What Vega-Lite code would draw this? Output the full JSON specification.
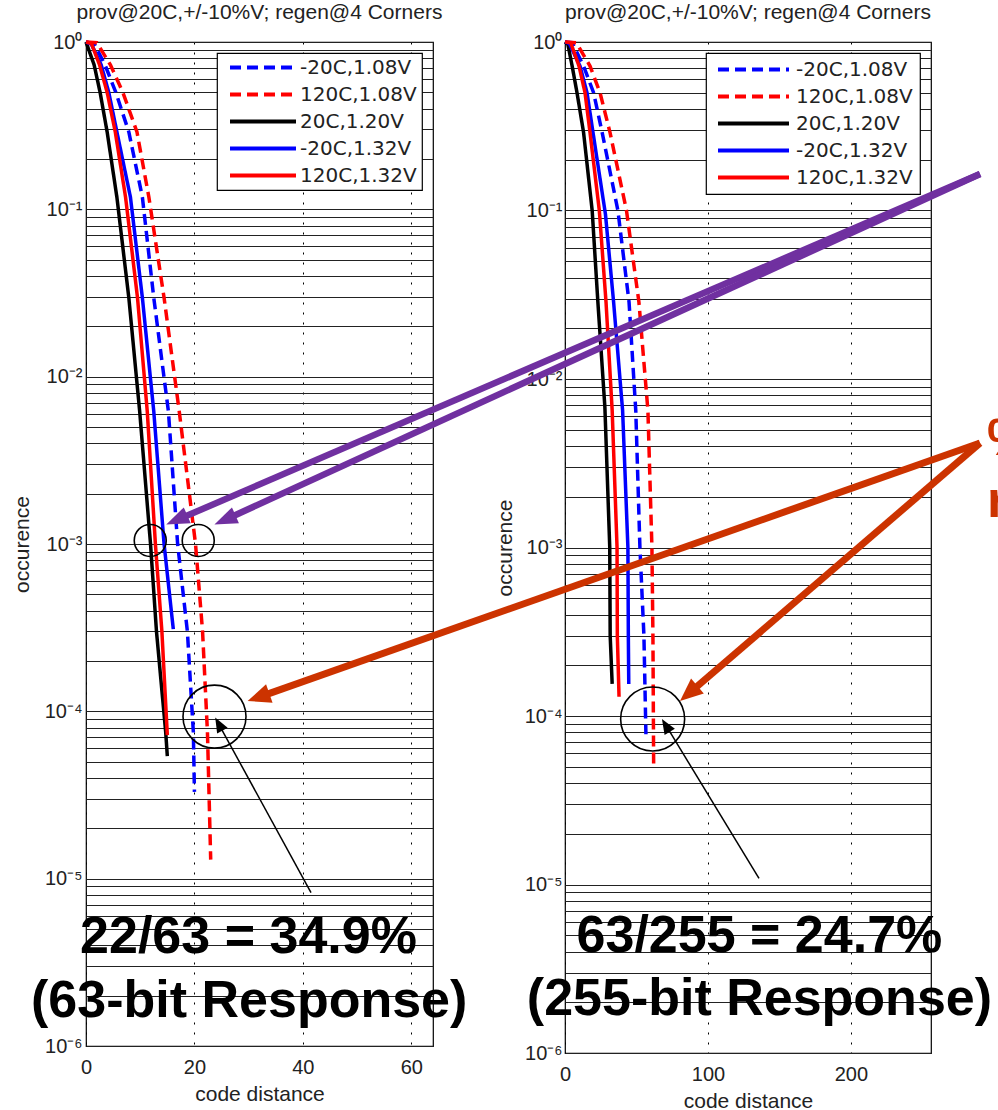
{
  "$schema": "https://vega.github.io/schema/vega-lite/v6.json",
  "background": "white",
  "padding": {"left": 10, "top": 1, "right": 0, "bottom": 4},
  "spacing": 132,
  "bounds": "flush",
  "resolve": {"scale": {"color": "independent", "strokeDash": "independent", "x": "independent", "y": "independent"}, "legend": {"color": "independent", "strokeDash": "independent"}},
  "config": {
    "font": "Liberation Sans",
    "title": {"font": "Liberation Sans", "fontSize": 21, "fontWeight": "normal", "color": "#222", "offset": 9},
    "axis": {
      "labelFont": "Liberation Sans", "titleFont": "Liberation Sans",
      "labelFontSize": 20, "titleFontSize": 21, "titleFontWeight": "normal",
      "labelColor": "#222", "titleColor": "#222",
      "ticks": false, "tickSize": 0, "domain": false,
      "labelFlush": false, "labelOverlap": false,
      "grid": true, "gridColor": "#222", "gridWidth": 1, "gridOpacity": 1
    },
    "legend": {
      "labelFont": "DejaVu Sans", "labelFontSize": 20, "labelColor": "#222",
      "fillColor": "white", "strokeColor": "#000", "strokeWidth": 1.2, "cornerRadius": 0,
      "symbolStrokeWidth": 4, "symbolSize": 225, "rowPadding": 7
    }
  },
  "datasets": {
    "left": [
      {"s": "-20C,1.08V", "d": 0, "occ": 1}, {"s": "-20C,1.08V", "d": 1.5, "occ": 0.98}, {"s": "-20C,1.08V", "d": 3.5, "occ": 0.73}, {"s": "-20C,1.08V", "d": 5.5, "occ": 0.5}, {"s": "-20C,1.08V", "d": 7.9, "occ": 0.29}, {"s": "-20C,1.08V", "d": 10.4, "occ": 0.118}, {"s": "-20C,1.08V", "d": 12.5, "occ": 0.0296}, {"s": "-20C,1.08V", "d": 15.2, "occ": 0.0062}, {"s": "-20C,1.08V", "d": 16.9, "occ": 0.001}, {"s": "-20C,1.08V", "d": 18.7, "occ": 0.0003}, {"s": "-20C,1.08V", "d": 19.8, "occ": 0.000075}, {"s": "-20C,1.08V", "d": 20, "occ": 0.000033},
      {"s": "120C,1.08V", "d": 0, "occ": 1}, {"s": "120C,1.08V", "d": 2, "occ": 0.99}, {"s": "120C,1.08V", "d": 4.5, "occ": 0.73}, {"s": "120C,1.08V", "d": 6.8, "occ": 0.5}, {"s": "120C,1.08V", "d": 9.4, "occ": 0.29}, {"s": "120C,1.08V", "d": 11.6, "occ": 0.118}, {"s": "120C,1.08V", "d": 14.4, "occ": 0.0296}, {"s": "120C,1.08V", "d": 17.2, "occ": 0.0062}, {"s": "120C,1.08V", "d": 20.2, "occ": 0.001}, {"s": "120C,1.08V", "d": 21.5, "occ": 0.0003}, {"s": "120C,1.08V", "d": 22.4, "occ": 0.000075}, {"s": "120C,1.08V", "d": 23, "occ": 0.000013},
      {"s": "20C,1.20V", "d": 0, "occ": 1}, {"s": "20C,1.20V", "d": 1.5, "occ": 0.73}, {"s": "20C,1.20V", "d": 2.6, "occ": 0.5}, {"s": "20C,1.20V", "d": 3.9, "occ": 0.29}, {"s": "20C,1.20V", "d": 5.7, "occ": 0.118}, {"s": "20C,1.20V", "d": 7.9, "occ": 0.0296}, {"s": "20C,1.20V", "d": 9.9, "occ": 0.0062}, {"s": "20C,1.20V", "d": 11.9, "occ": 0.001}, {"s": "20C,1.20V", "d": 13, "occ": 0.0003}, {"s": "20C,1.20V", "d": 14.7, "occ": 0.000075}, {"s": "20C,1.20V", "d": 15, "occ": 0.000054},
      {"s": "-20C,1.32V", "d": 0, "occ": 1}, {"s": "-20C,1.32V", "d": 1, "occ": 0.97}, {"s": "-20C,1.32V", "d": 2.8, "occ": 0.73}, {"s": "-20C,1.32V", "d": 4.2, "occ": 0.5}, {"s": "-20C,1.32V", "d": 5.7, "occ": 0.29}, {"s": "-20C,1.32V", "d": 8.2, "occ": 0.118}, {"s": "-20C,1.32V", "d": 10.4, "occ": 0.0296}, {"s": "-20C,1.32V", "d": 12.5, "occ": 0.0062}, {"s": "-20C,1.32V", "d": 14.4, "occ": 0.001}, {"s": "-20C,1.32V", "d": 16.1, "occ": 0.00031},
      {"s": "120C,1.32V", "d": 0, "occ": 1}, {"s": "120C,1.32V", "d": 1, "occ": 0.98}, {"s": "120C,1.32V", "d": 2.5, "occ": 0.73}, {"s": "120C,1.32V", "d": 3.9, "occ": 0.5}, {"s": "120C,1.32V", "d": 5.4, "occ": 0.29}, {"s": "120C,1.32V", "d": 7.3, "occ": 0.118}, {"s": "120C,1.32V", "d": 9.5, "occ": 0.0296}, {"s": "120C,1.32V", "d": 11.3, "occ": 0.0062}, {"s": "120C,1.32V", "d": 12.8, "occ": 0.001}, {"s": "120C,1.32V", "d": 14, "occ": 0.0003}, {"s": "120C,1.32V", "d": 15, "occ": 0.000072}
    ],
    "right": [
      {"s": "-20C,1.08V", "d": 0, "occ": 1}, {"s": "-20C,1.08V", "d": 5, "occ": 0.99}, {"s": "-20C,1.08V", "d": 13, "occ": 0.72}, {"s": "-20C,1.08V", "d": 20, "occ": 0.5}, {"s": "-20C,1.08V", "d": 26, "occ": 0.29}, {"s": "-20C,1.08V", "d": 37, "occ": 0.1}, {"s": "-20C,1.08V", "d": 44.8, "occ": 0.0286}, {"s": "-20C,1.08V", "d": 49.5, "occ": 0.0065}, {"s": "-20C,1.08V", "d": 52.4, "occ": 0.001}, {"s": "-20C,1.08V", "d": 55.2, "occ": 0.0003}, {"s": "-20C,1.08V", "d": 56.6, "occ": 0.000078},
      {"s": "120C,1.08V", "d": 0, "occ": 1}, {"s": "120C,1.08V", "d": 8, "occ": 0.99}, {"s": "120C,1.08V", "d": 17.5, "occ": 0.72}, {"s": "120C,1.08V", "d": 24.5, "occ": 0.5}, {"s": "120C,1.08V", "d": 31.5, "occ": 0.29}, {"s": "120C,1.08V", "d": 43, "occ": 0.1}, {"s": "120C,1.08V", "d": 51.7, "occ": 0.0286}, {"s": "120C,1.08V", "d": 58, "occ": 0.0065}, {"s": "120C,1.08V", "d": 60.8, "occ": 0.001}, {"s": "120C,1.08V", "d": 61.5, "occ": 0.0003}, {"s": "120C,1.08V", "d": 62, "occ": 0.000052},
      {"s": "20C,1.20V", "d": 0, "occ": 1}, {"s": "20C,1.20V", "d": 2, "occ": 0.97}, {"s": "20C,1.20V", "d": 5, "occ": 0.72}, {"s": "20C,1.20V", "d": 8.4, "occ": 0.5}, {"s": "20C,1.20V", "d": 13, "occ": 0.29}, {"s": "20C,1.20V", "d": 19, "occ": 0.1}, {"s": "20C,1.20V", "d": 23, "occ": 0.0286}, {"s": "20C,1.20V", "d": 27.9, "occ": 0.0068}, {"s": "20C,1.20V", "d": 31.3, "occ": 0.001}, {"s": "20C,1.20V", "d": 31.6, "occ": 0.0003}, {"s": "20C,1.20V", "d": 33, "occ": 0.000155},
      {"s": "-20C,1.32V", "d": 0, "occ": 1}, {"s": "-20C,1.32V", "d": 3, "occ": 0.98}, {"s": "-20C,1.32V", "d": 10.5, "occ": 0.72}, {"s": "-20C,1.32V", "d": 15.4, "occ": 0.5}, {"s": "-20C,1.32V", "d": 19.6, "occ": 0.29}, {"s": "-20C,1.32V", "d": 28.3, "occ": 0.095}, {"s": "-20C,1.32V", "d": 34, "occ": 0.0286}, {"s": "-20C,1.32V", "d": 40.3, "occ": 0.0065}, {"s": "-20C,1.32V", "d": 44, "occ": 0.001}, {"s": "-20C,1.32V", "d": 44.3, "occ": 0.0003}, {"s": "-20C,1.32V", "d": 44.6, "occ": 0.000155},
      {"s": "120C,1.32V", "d": 0, "occ": 1}, {"s": "120C,1.32V", "d": 4, "occ": 0.99}, {"s": "120C,1.32V", "d": 9.8, "occ": 0.72}, {"s": "120C,1.32V", "d": 14, "occ": 0.5}, {"s": "120C,1.32V", "d": 17.5, "occ": 0.29}, {"s": "120C,1.32V", "d": 24, "occ": 0.1}, {"s": "120C,1.32V", "d": 28.7, "occ": 0.0286}, {"s": "120C,1.32V", "d": 33, "occ": 0.0065}, {"s": "120C,1.32V", "d": 36.4, "occ": 0.001}, {"s": "120C,1.32V", "d": 36.6, "occ": 0.0003}, {"s": "120C,1.32V", "d": 37.8, "occ": 0.00013}
    ]
  },
  "hconcat": [
    {
      "width": 347,
      "height": 1004,
      "title": {"text": "prov@20C,+/-10%V; regen@4 Corners"},
      "view": {"stroke": "#000", "strokeWidth": 1.2},
      "layer": [
        {
          "data": {"name": "left"},
          "mark": {"type": "line", "strokeWidth": 3.5},
          "encoding": {
            "x": {"field": "d", "type": "quantitative", "title": "code distance", "scale": {"domain": [0, 64], "nice": false, "zero": false},
              "axis": {"values": [0, 20, 40, 60], "tickCount": 4, "gridDash": [2, 8], "gridColor": "#000", "labelPadding": 11, "titlePadding": 6}},
            "y": {"field": "occ", "type": "quantitative", "title": "occurence", "scale": {"type": "log", "domain": [0.000001, 1], "nice": false},
              "axis": {"values": [0.000001, 0.000002, 0.000003, 0.000004, 0.000005, 0.000006, 0.000007, 0.000008, 0.000009, 0.00001, 0.00002, 0.00003, 0.00004, 0.00005, 0.00006, 0.00007, 0.00008, 0.00009, 0.0001, 0.0002, 0.0003, 0.0004, 0.0005, 0.0006, 0.0007, 0.0008, 0.0009, 0.001, 0.002, 0.003, 0.004, 0.005, 0.006, 0.007, 0.008, 0.009, 0.01, 0.02, 0.03, 0.04, 0.05, 0.06, 0.07, 0.08, 0.09, 0.1, 0.2, 0.3, 0.4, 0.5, 0.6, 0.7, 0.8, 0.9, 1],
                "labelExpr": "abs(log(datum.value)/LN10 - round(log(datum.value)/LN10)) < 0.01 ? ['10⁻⁶','10⁻⁵','10⁻⁴','10⁻³','10⁻²','10⁻¹','10⁰'][round(log(datum.value)/LN10) + 6] : ''",
                "labelPadding": 4, "titlePadding": 12}},
            "color": {"field": "s", "type": "nominal",
              "scale": {"domain": ["-20C,1.08V", "120C,1.08V", "20C,1.20V", "-20C,1.32V", "120C,1.32V"], "range": ["#0000ff", "#ff0000", "#000000", "#0000ff", "#ff0000"]},
              "legend": {"title": null, "orient": "top-right", "offset": 11, "padding": 4.5, "symbolType": "M-4.4,0H4.4", "symbolOffset": 31.5, "labelOffset": 27}},
            "strokeDash": {"field": "s", "type": "nominal",
              "scale": {"domain": ["-20C,1.08V", "120C,1.08V", "20C,1.20V", "-20C,1.32V", "120C,1.32V"], "range": [[11, 6], [11, 6], [1, 0], [1, 0], [1, 0]]},
              "legend": {"title": null, "orient": "top-right", "offset": 11, "padding": 4.5, "symbolType": "M-4.4,0H4.4", "symbolOffset": 31.5, "labelOffset": 27}}
          }
        },
        {
          "data": {"values": [{"x": 11.85, "y": 0.00105}, {"x": 20.7, "y": 0.00105}]},
          "mark": {"type": "point", "shape": "circle", "size": 1024, "filled": false, "color": "#000", "strokeWidth": 1.6, "opacity": 1, "clip": false},
          "encoding": {"x": {"field": "x", "type": "quantitative"}, "y": {"field": "y", "type": "quantitative"}}
        },
        {
          "data": {"values": [{"x": 23.7, "y": 0.000093}]},
          "mark": {"type": "point", "shape": "circle", "size": 3969, "filled": false, "color": "#000", "strokeWidth": 1.6, "opacity": 1, "clip": false},
          "encoding": {"x": {"field": "x", "type": "quantitative"}, "y": {"field": "y", "type": "quantitative"}}
        },
        {
          "data": {"values": [{"x": 41.5, "y": 0.00000824, "x2": 24.71, "y2": 0.0000814}]},
          "mark": {"type": "rule", "color": "#000", "strokeWidth": 1.5, "clip": false},
          "encoding": {"x": {"field": "x", "type": "quantitative"}, "y": {"field": "y", "type": "quantitative"}, "x2": {"field": "x2"}, "y2": {"field": "y2"}}
        },
        {
          "data": {"values": [{"x": 23.83, "y": 0.0000919}]},
          "mark": {"type": "point", "shape": "M0,0L-0.8,2L0.8,2Z", "size": 225, "angle": 331.3, "filled": true, "color": "#000", "opacity": 1, "clip": false},
          "encoding": {"x": {"field": "x", "type": "quantitative"}, "y": {"field": "y", "type": "quantitative"}}
        },
        {
          "data": {"values": [{"x": 29.97, "y": 0.000003597, "t": "22/63 = 34.9%"}, {"x": 30.1, "y": 0.00000149, "t": "(63-bit Response)"}]},
          "mark": {"type": "text", "font": "Liberation Sans", "fontSize": 52, "fontWeight": "bold", "color": "#000", "align": "center", "baseline": "alphabetic", "clip": false},
          "encoding": {"x": {"field": "x", "type": "quantitative"}, "y": {"field": "y", "type": "quantitative"}, "text": {"field": "t"}}
        }
      ]
    },
    {
      "spacing": 56,
      "bounds": "flush",
      "resolve": {"scale": {"color": "independent", "strokeDash": "independent", "x": "independent", "y": "independent"}, "legend": {"color": "independent", "strokeDash": "independent"}},
      "hconcat": [
        {
          "width": 366,
          "height": 1011,
          "title": {"text": "prov@20C,+/-10%V; regen@4 Corners"},
          "view": {"stroke": "#000", "strokeWidth": 1.2},
          "layer": [
            {
              "data": {"name": "right"},
              "mark": {"type": "line", "strokeWidth": 3.5},
              "encoding": {
                "x": {"field": "d", "type": "quantitative", "title": "code distance", "scale": {"domain": [0, 256], "nice": false, "zero": false},
                  "axis": {"values": [0, 100, 200], "tickCount": 3, "gridDash": [2, 8], "gridColor": "#000", "labelPadding": 11, "titlePadding": 6}},
                "y": {"field": "occ", "type": "quantitative", "title": "occurence", "scale": {"type": "log", "domain": [0.000001, 1], "nice": false},
                  "axis": {"values": [0.000001, 0.000002, 0.000003, 0.000004, 0.000005, 0.000006, 0.000007, 0.000008, 0.000009, 0.00001, 0.00002, 0.00003, 0.00004, 0.00005, 0.00006, 0.00007, 0.00008, 0.00009, 0.0001, 0.0002, 0.0003, 0.0004, 0.0005, 0.0006, 0.0007, 0.0008, 0.0009, 0.001, 0.002, 0.003, 0.004, 0.005, 0.006, 0.007, 0.008, 0.009, 0.01, 0.02, 0.03, 0.04, 0.05, 0.06, 0.07, 0.08, 0.09, 0.1, 0.2, 0.3, 0.4, 0.5, 0.6, 0.7, 0.8, 0.9, 1],
                    "labelExpr": "abs(log(datum.value)/LN10 - round(log(datum.value)/LN10)) < 0.01 ? ['10⁻⁶','10⁻⁵','10⁻⁴','10⁻³','10⁻²','10⁻¹','10⁰'][round(log(datum.value)/LN10) + 6] : ''",
                    "labelPadding": 3, "titlePadding": 9}},
                "color": {"field": "s", "type": "nominal",
                  "scale": {"domain": ["-20C,1.08V", "120C,1.08V", "20C,1.20V", "-20C,1.32V", "120C,1.32V"], "range": ["#0000ff", "#ff0000", "#000000", "#0000ff", "#ff0000"]},
                  "legend": {"title": null, "orient": "top-right", "offset": 11, "padding": 6.5, "symbolType": "M-4.733,0H4.733", "symbolOffset": 31, "labelOffset": 32.5}},
                "strokeDash": {"field": "s", "type": "nominal",
                  "scale": {"domain": ["-20C,1.08V", "120C,1.08V", "20C,1.20V", "-20C,1.32V", "120C,1.32V"], "range": [[11, 6], [11, 6], [1, 0], [1, 0], [1, 0]]},
                  "legend": {"title": null, "orient": "top-right", "offset": 11, "padding": 6.5, "symbolType": "M-4.733,0H4.733", "symbolOffset": 31, "labelOffset": 32.5}}
              }
            },
            {
              "data": {"values": [{"x": 61.3, "y": 0.000096}]},
              "mark": {"type": "point", "shape": "circle", "size": 4096, "filled": false, "color": "#000", "strokeWidth": 1.6, "opacity": 1, "clip": false},
              "encoding": {"x": {"field": "x", "type": "quantitative"}, "y": {"field": "y", "type": "quantitative"}}
            },
            {
              "data": {"values": [{"x": 135.7, "y": 0.00001087, "x2": 71.48, "y2": 0.0000855}]},
              "mark": {"type": "rule", "color": "#000", "strokeWidth": 1.5, "clip": false},
              "encoding": {"x": {"field": "x", "type": "quantitative"}, "y": {"field": "y", "type": "quantitative"}, "x2": {"field": "x2"}, "y2": {"field": "y2"}}
            },
            {
              "data": {"values": [{"x": 67.8, "y": 0.0000959}]},
              "mark": {"type": "point", "shape": "M0,0L-0.8,2L0.8,2Z", "size": 225, "angle": 328.7, "filled": true, "color": "#000", "opacity": 1, "clip": false},
              "encoding": {"x": {"field": "x", "type": "quantitative"}, "y": {"field": "y", "type": "quantitative"}}
            },
            {
              "data": {"values": [{"x": 136.0, "y": 0.00000397, "t": "63/255 = 24.7%"}, {"x": 136.0, "y": 0.00000168, "t": "(255-bit Response)"}]},
              "mark": {"type": "text", "font": "Liberation Sans", "fontSize": 52, "fontWeight": "bold", "color": "#000", "align": "center", "baseline": "alphabetic", "clip": false},
              "encoding": {"x": {"field": "x", "type": "quantitative"}, "y": {"field": "y", "type": "quantitative"}, "text": {"field": "t"}}
            },
            {
              "data": {"values": [{"x": 290.3, "y": 0.1647, "x2": -268.7, "y2": 0.00149}, {"x": 290.3, "y": 0.1647, "x2": -235.0, "y2": 0.001498}]},
              "mark": {"type": "rule", "color": "#7030a0", "strokeWidth": 6.5, "clip": false},
              "encoding": {"x": {"field": "x", "type": "quantitative"}, "y": {"field": "y", "type": "quantitative"}, "x2": {"field": "x2"}, "y2": {"field": "y2"}}
            },
            {
              "data": {"values": [{"x": -278.9, "y": 0.001367}, {"x": -245.2, "y": 0.001367}]},
              "mark": {"type": "point", "shape": "M0,0L-0.75,2L0.75,2Z", "size": 529, "angle": 246, "filled": true, "color": "#7030a0", "opacity": 1, "clip": false},
              "encoding": {"x": {"field": "x", "type": "quantitative"}, "y": {"field": "y", "type": "quantitative"}}
            },
            {
              "data": {"values": [{"x": 290.3, "y": 0.00417, "x2": -210.1, "y2": 0.000133}, {"x": 290.3, "y": 0.00417, "x2": 89.95, "y2": 0.000144}]},
              "mark": {"type": "rule", "color": "#cc3300", "strokeWidth": 7, "clip": false},
              "encoding": {"x": {"field": "x", "type": "quantitative"}, "y": {"field": "y", "type": "quantitative"}, "x2": {"field": "x2"}, "y2": {"field": "y2"}}
            },
            {
              "data": {"values": [{"x": -222.0, "y": 0.0001226}]},
              "mark": {"type": "point", "shape": "M0,0L-0.85,2L0.85,2Z", "size": 529, "angle": 250.6, "filled": true, "color": "#cc3300", "opacity": 1, "clip": false},
              "encoding": {"x": {"field": "x", "type": "quantitative"}, "y": {"field": "y", "type": "quantitative"}}
            },
            {
              "data": {"values": [{"x": 80.44, "y": 0.0001227}]},
              "mark": {"type": "point", "shape": "M0,0L-0.85,2L0.85,2Z", "size": 529, "angle": 229.3, "filled": true, "color": "#cc3300", "opacity": 1, "clip": false},
              "encoding": {"x": {"field": "x", "type": "quantitative"}, "y": {"field": "y", "type": "quantitative"}}
            }
          ]
        },
        {
          "width": 13,
          "height": 1011,
          "view": {"stroke": null},
          "data": {"values": [{"c": 0, "occ": 0.00354, "t": "%"}, {"c": 0, "occ": 0.00152, "t": "r"}]},
          "mark": {"type": "text", "clip": true, "align": "left", "baseline": "alphabetic", "font": "Liberation Sans", "fontSize": 52, "fontWeight": "bold", "color": "#cc3300"},
          "encoding": {
            "x": {"field": "c", "type": "quantitative", "scale": {"domain": [0, 1]}, "axis": null},
            "y": {"field": "occ", "type": "quantitative", "scale": {"type": "log", "domain": [0.000001, 1]}, "axis": null},
            "text": {"field": "t"}
          }
        }
      ]
    }
  ]
}
